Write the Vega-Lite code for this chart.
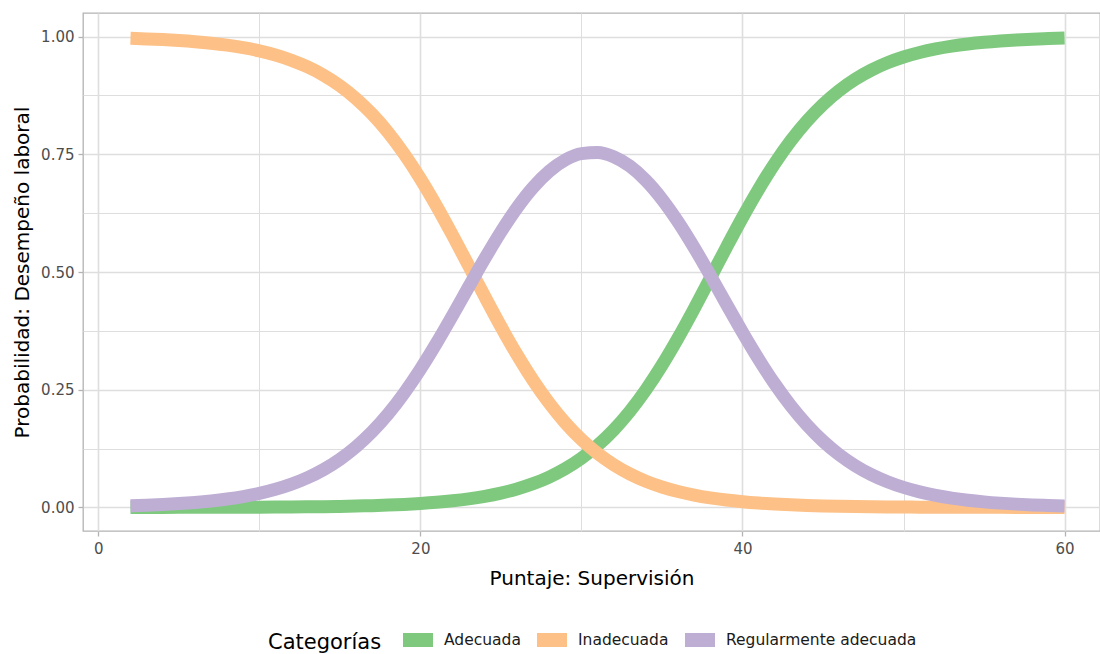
{
  "$schema": "https://vega.github.io/schema/vega-lite/v6.json",
  "autosize": {"type": "none"},
  "padding": {"left": 83, "top": 13, "right": 0, "bottom": 123},
  "width": 1017,
  "height": 518,
  "background": "white",
  "config": {
    "font": "DejaVu Sans",
    "view": {"stroke": "#B3B3B3", "strokeWidth": 1.3}
  },
  "datasets": {
    "curvas": [
      {"x":2,"c":"Adecuada","p":0.00008},{"x":3,"c":"Adecuada","p":0.0001},{"x":4,"c":"Adecuada","p":0.00013},{"x":5,"c":"Adecuada","p":0.00017},{"x":6,"c":"Adecuada","p":0.00022},{"x":7,"c":"Adecuada","p":0.00028},{"x":8,"c":"Adecuada","p":0.00037},{"x":9,"c":"Adecuada","p":0.00048},{"x":10,"c":"Adecuada","p":0.00062},{"x":11,"c":"Adecuada","p":0.00081},{"x":12,"c":"Adecuada","p":0.00105},{"x":13,"c":"Adecuada","p":0.00136},{"x":14,"c":"Adecuada","p":0.00176},{"x":15,"c":"Adecuada","p":0.00229},{"x":16,"c":"Adecuada","p":0.00297},{"x":17,"c":"Adecuada","p":0.00386},{"x":18,"c":"Adecuada","p":0.005},{"x":19,"c":"Adecuada","p":0.00649},{"x":20,"c":"Adecuada","p":0.00842},{"x":21,"c":"Adecuada","p":0.01092},{"x":22,"c":"Adecuada","p":0.01414},{"x":23,"c":"Adecuada","p":0.0183},{"x":24,"c":"Adecuada","p":0.02365},{"x":25,"c":"Adecuada","p":0.03052},{"x":26,"c":"Adecuada","p":0.0393},{"x":27,"c":"Adecuada","p":0.05048},{"x":28,"c":"Adecuada","p":0.06463},{"x":29,"c":"Adecuada","p":0.08239},{"x":30,"c":"Adecuada","p":0.10449},{"x":31,"c":"Adecuada","p":0.13167},{"x":32,"c":"Adecuada","p":0.16461},{"x":33,"c":"Adecuada","p":0.20387},{"x":34,"c":"Adecuada","p":0.24969},{"x":35,"c":"Adecuada","p":0.3019},{"x":36,"c":"Adecuada","p":0.35977},{"x":37,"c":"Adecuada","p":0.42204},{"x":38,"c":"Adecuada","p":0.4869},{"x":39,"c":"Adecuada","p":0.55221},{"x":40,"c":"Adecuada","p":0.61576},{"x":41,"c":"Adecuada","p":0.67559},{"x":42,"c":"Adecuada","p":0.73019},{"x":43,"c":"Adecuada","p":0.77862},{"x":44,"c":"Adecuada","p":0.82047},{"x":45,"c":"Adecuada","p":0.85589},{"x":46,"c":"Adecuada","p":0.88529},{"x":47,"c":"Adecuada","p":0.90934},{"x":48,"c":"Adecuada","p":0.92874},{"x":49,"c":"Adecuada","p":0.94425},{"x":50,"c":"Adecuada","p":0.95654},{"x":51,"c":"Adecuada","p":0.96622},{"x":52,"c":"Adecuada","p":0.9738},{"x":53,"c":"Adecuada","p":0.97972},{"x":54,"c":"Adecuada","p":0.98432},{"x":55,"c":"Adecuada","p":0.98789},{"x":56,"c":"Adecuada","p":0.99065},{"x":57,"c":"Adecuada","p":0.99279},{"x":58,"c":"Adecuada","p":0.99445},{"x":59,"c":"Adecuada","p":0.99572},{"x":60,"c":"Adecuada","p":0.9967},
      {"x":2,"c":"Inadecuada","p":0.99614},{"x":3,"c":"Inadecuada","p":0.995},{"x":4,"c":"Inadecuada","p":0.99351},{"x":5,"c":"Inadecuada","p":0.99158},{"x":6,"c":"Inadecuada","p":0.98908},{"x":7,"c":"Inadecuada","p":0.98586},{"x":8,"c":"Inadecuada","p":0.9817},{"x":9,"c":"Inadecuada","p":0.97635},{"x":10,"c":"Inadecuada","p":0.96948},{"x":11,"c":"Inadecuada","p":0.9607},{"x":12,"c":"Inadecuada","p":0.94952},{"x":13,"c":"Inadecuada","p":0.93537},{"x":14,"c":"Inadecuada","p":0.91761},{"x":15,"c":"Inadecuada","p":0.89551},{"x":16,"c":"Inadecuada","p":0.86833},{"x":17,"c":"Inadecuada","p":0.83538},{"x":18,"c":"Inadecuada","p":0.79633},{"x":19,"c":"Inadecuada","p":0.75031},{"x":20,"c":"Inadecuada","p":0.69811},{"x":21,"c":"Inadecuada","p":0.64024},{"x":22,"c":"Inadecuada","p":0.57796},{"x":23,"c":"Inadecuada","p":0.5131},{"x":24,"c":"Inadecuada","p":0.4478},{"x":25,"c":"Inadecuada","p":0.38424},{"x":26,"c":"Inadecuada","p":0.32442},{"x":27,"c":"Inadecuada","p":0.26981},{"x":28,"c":"Inadecuada","p":0.2214},{"x":29,"c":"Inadecuada","p":0.17953},{"x":30,"c":"Inadecuada","p":0.14411},{"x":31,"c":"Inadecuada","p":0.11471},{"x":32,"c":"Inadecuada","p":0.09067},{"x":33,"c":"Inadecuada","p":0.07126},{"x":34,"c":"Inadecuada","p":0.05575},{"x":35,"c":"Inadecuada","p":0.04346},{"x":36,"c":"Inadecuada","p":0.03378},{"x":37,"c":"Inadecuada","p":0.0262},{"x":38,"c":"Inadecuada","p":0.02028},{"x":39,"c":"Inadecuada","p":0.01568},{"x":40,"c":"Inadecuada","p":0.01211},{"x":41,"c":"Inadecuada","p":0.00934},{"x":42,"c":"Inadecuada","p":0.00721},{"x":43,"c":"Inadecuada","p":0.00555},{"x":44,"c":"Inadecuada","p":0.00428},{"x":45,"c":"Inadecuada","p":0.0033},{"x":46,"c":"Inadecuada","p":0.00254},{"x":47,"c":"Inadecuada","p":0.00196},{"x":48,"c":"Inadecuada","p":0.00151},{"x":49,"c":"Inadecuada","p":0.00116},{"x":50,"c":"Inadecuada","p":0.00089},{"x":51,"c":"Inadecuada","p":0.00069},{"x":52,"c":"Inadecuada","p":0.00053},{"x":53,"c":"Inadecuada","p":0.00041},{"x":54,"c":"Inadecuada","p":0.00031},{"x":55,"c":"Inadecuada","p":0.00024},{"x":56,"c":"Inadecuada","p":0.00018},{"x":57,"c":"Inadecuada","p":0.00014},{"x":58,"c":"Inadecuada","p":0.00011},{"x":59,"c":"Inadecuada","p":0.00008},{"x":60,"c":"Inadecuada","p":0.00006},
      {"x":2,"c":"Regularmente adecuada","p":0.00378},{"x":3,"c":"Regularmente adecuada","p":0.0049},{"x":4,"c":"Regularmente adecuada","p":0.00636},{"x":5,"c":"Regularmente adecuada","p":0.00825},{"x":6,"c":"Regularmente adecuada","p":0.0107},{"x":7,"c":"Regularmente adecuada","p":0.01386},{"x":8,"c":"Regularmente adecuada","p":0.01793},{"x":9,"c":"Regularmente adecuada","p":0.02317},{"x":10,"c":"Regularmente adecuada","p":0.0299},{"x":11,"c":"Regularmente adecuada","p":0.03849},{"x":12,"c":"Regularmente adecuada","p":0.04943},{"x":13,"c":"Regularmente adecuada","p":0.06327},{"x":14,"c":"Regularmente adecuada","p":0.08063},{"x":15,"c":"Regularmente adecuada","p":0.1022},{"x":16,"c":"Regularmente adecuada","p":0.1287},{"x":17,"c":"Regularmente adecuada","p":0.16076},{"x":18,"c":"Regularmente adecuada","p":0.19867},{"x":19,"c":"Regularmente adecuada","p":0.2432},{"x":20,"c":"Regularmente adecuada","p":0.29347},{"x":21,"c":"Regularmente adecuada","p":0.34884},{"x":22,"c":"Regularmente adecuada","p":0.4079},{"x":23,"c":"Regularmente adecuada","p":0.4686},{"x":24,"c":"Regularmente adecuada","p":0.52855},{"x":25,"c":"Regularmente adecuada","p":0.58524},{"x":26,"c":"Regularmente adecuada","p":0.63628},{"x":27,"c":"Regularmente adecuada","p":0.67971},{"x":28,"c":"Regularmente adecuada","p":0.71397},{"x":29,"c":"Regularmente adecuada","p":0.73808},{"x":30,"c":"Regularmente adecuada","p":0.7514},{"x":31,"c":"Regularmente adecuada","p":0.75362},{"x":32,"c":"Regularmente adecuada","p":0.74472},{"x":33,"c":"Regularmente adecuada","p":0.72487},{"x":34,"c":"Regularmente adecuada","p":0.69456},{"x":35,"c":"Regularmente adecuada","p":0.65464},{"x":36,"c":"Regularmente adecuada","p":0.60645},{"x":37,"c":"Regularmente adecuada","p":0.55176},{"x":38,"c":"Regularmente adecuada","p":0.49282},{"x":39,"c":"Regularmente adecuada","p":0.43211},{"x":40,"c":"Regularmente adecuada","p":0.37213},{"x":41,"c":"Regularmente adecuada","p":0.31507},{"x":42,"c":"Regularmente adecuada","p":0.2626},{"x":43,"c":"Regularmente adecuada","p":0.21583},{"x":44,"c":"Regularmente adecuada","p":0.17525},{"x":45,"c":"Regularmente adecuada","p":0.14081},{"x":46,"c":"Regularmente adecuada","p":0.11217},{"x":47,"c":"Regularmente adecuada","p":0.0887},{"x":48,"c":"Regularmente adecuada","p":0.06975},{"x":49,"c":"Regularmente adecuada","p":0.05459},{"x":50,"c":"Regularmente adecuada","p":0.04257},{"x":51,"c":"Regularmente adecuada","p":0.03309},{"x":52,"c":"Regularmente adecuada","p":0.02567},{"x":53,"c":"Regularmente adecuada","p":0.01987},{"x":54,"c":"Regularmente adecuada","p":0.01537},{"x":55,"c":"Regularmente adecuada","p":0.01187},{"x":56,"c":"Regularmente adecuada","p":0.00917},{"x":57,"c":"Regularmente adecuada","p":0.00707},{"x":58,"c":"Regularmente adecuada","p":0.00544},{"x":59,"c":"Regularmente adecuada","p":0.0042},{"x":60,"c":"Regularmente adecuada","p":0.00324}
    ]
  },
  "data": {"name": "curvas"},
  "mark": {"type": "line", "strokeWidth": 13, "strokeCap": "butt", "strokeJoin": "miter", "interpolate": "monotone"},
  "encoding": {
    "x": {
      "field": "x", "type": "quantitative",
      "scale": {"domain": [-0.95, 62.2], "nice": false, "zero": false},
      "axis": {
        "title": "Puntaje: Supervisión",
        "values": [0, 10, 20, 30, 40, 50, 60],
        "labelExpr": "datum.value % 20 === 0 ? datum.label : ''",
        "domain": false,
        "grid": true,
        "gridColor": "#DEDEDE",
        "gridWidth": {"condition": {"test": "datum.value % 20 !== 0", "value": 1}, "value": 1.6},
        "ticks": true,
        "tickColor": "#B3B3B3",
        "tickWidth": 1.3,
        "tickSize": 5,
        "tickOpacity": {"condition": {"test": "datum.value % 20 !== 0", "value": 0}, "value": 1},
        "labelColor": "#4D4D4D",
        "labelFontSize": 15,
        "labelPadding": 5,
        "titleFontSize": 20,
        "titleFontWeight": "normal",
        "titleColor": "#000000",
        "titlePadding": 12
      }
    },
    "y": {
      "field": "p", "type": "quantitative",
      "scale": {"domain": [-0.05, 1.05], "nice": false, "zero": false},
      "axis": {
        "title": "Probabilidad: Desempeño laboral",
        "values": [0, 0.125, 0.25, 0.375, 0.5, 0.625, 0.75, 0.875, 1],
        "format": ".2f",
        "labelExpr": "(datum.value * 4) % 1 === 0 ? datum.label : ''",
        "domain": false,
        "grid": true,
        "gridColor": "#DEDEDE",
        "gridWidth": {"condition": {"test": "(datum.value * 4) % 1 !== 0", "value": 1}, "value": 1.6},
        "ticks": true,
        "tickColor": "#B3B3B3",
        "tickWidth": 1.3,
        "tickSize": 5,
        "tickOpacity": {"condition": {"test": "(datum.value * 4) % 1 !== 0", "value": 0}, "value": 1},
        "labelColor": "#4D4D4D",
        "labelFontSize": 15,
        "labelPadding": 4,
        "titleFontSize": 20,
        "titleFontWeight": "normal",
        "titleColor": "#000000",
        "titlePadding": 8
      }
    },
    "color": {
      "field": "c", "type": "nominal",
      "scale": {"domain": ["Adecuada", "Inadecuada", "Regularmente adecuada"], "range": ["#7FC97F", "#FDC086", "#BEAED4"]},
      "legend": {
        "title": "Categorías",
        "orient": "none",
        "legendX": 185,
        "legendY": 605,
        "direction": "horizontal",
        "titleOrient": "left",
        "titleFontSize": 21,
        "titleFontWeight": "normal",
        "titleColor": "#000000",
        "titlePadding": 14,
        "titleBaseline": "middle",
        "labelFontSize": 15.5,
        "labelColor": "#1A1A1A",
        "labelLimit": 400,
        "labelOffset": 4,
        "columnPadding": -12,
        "gridAlign": "each",
        "symbolType": "stroke",
        "symbolSize": 900,
        "symbolStrokeWidth": 14
      }
    }
  }
}
